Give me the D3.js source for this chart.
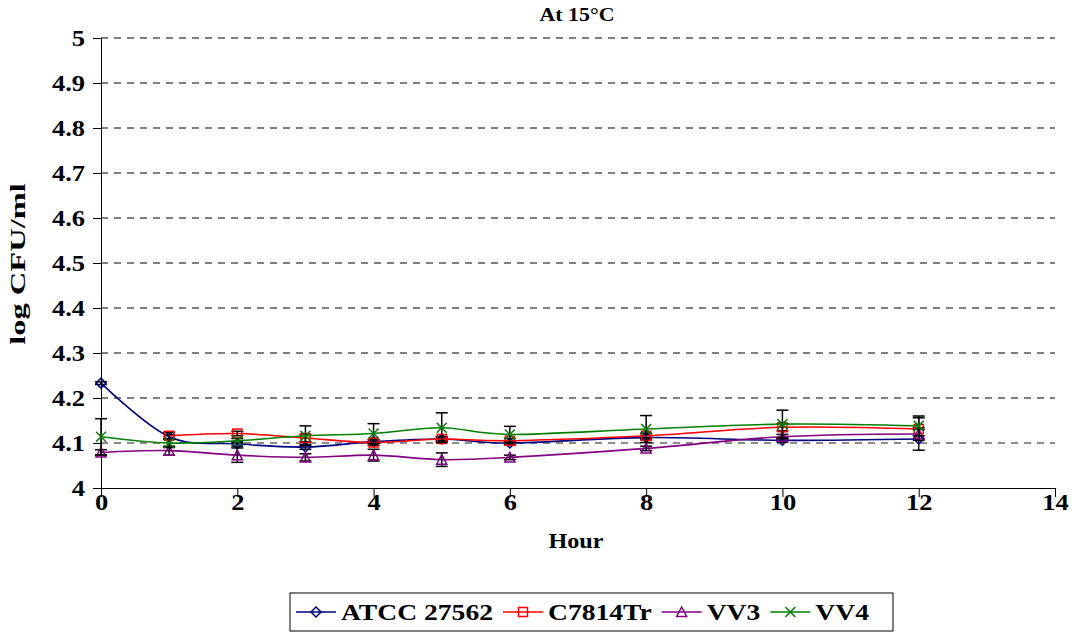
<!DOCTYPE html>
<html>
<head>
<meta charset="utf-8">
<script src="https://cdn.jsdelivr.net/npm/d3@7"></script>
<style>
  body { margin: 0; background: #fff; }
  svg text { font-family: "Liberation Serif", "Times New Roman", serif; font-weight: bold; fill: #000; }
</style>
</head>
<body>
<div id="chart"></div>
<script>
// data (log CFU/ml at 15°C)
const hours = [0, 1, 2, 3, 4, 5, 6, 8, 10, 12];
const atcc = [4.233, 4.114, 4.098, 4.091, 4.103, 4.109, 4.100, 4.112, 4.106, 4.109];
const c7814 = [null, 4.116, 4.121, 4.111, 4.101, 4.109, 4.105, 4.116, 4.135, 4.131];
const vv3 = [4.079, 4.083, 4.073, 4.068, 4.073, 4.063, 4.068, 4.088, 4.114, 4.120];
const vv4 = [4.114, 4.100, 4.105, 4.116, 4.121, 4.134, 4.119, 4.131, 4.142, 4.138];
// error bar half-widths
const atccErr = [0.003, 0.005, 0.005, 0.005, 0.004, 0.004, 0.004, 0.005, 0.004, 0.025];
const c7814Err = [null, 0.008, 0.005, 0.008, 0.006, 0.005, 0.005, 0.006, 0.008, 0.025];
const vv3Err = [0.006, 0.010, 0.016, 0.008, 0.013, 0.015, 0.005, 0.005, 0.005, 0.010];
const vv4Err = [0.040, 0.010, 0.005, 0.022, 0.022, 0.033, 0.018, 0.030, 0.031, 0.022];
const seriesNames = ["ATCC 27562", "C7814Tr", "VV3", "VV4"];
const xTicks = [0, 2, 4, 6, 8, 10, 12, 14];
const yTicks = [4, 4.1, 4.2, 4.3, 4.4, 4.5, 4.6, 4.7, 4.8, 4.9, 5];

const colors = ["#000080", "#ff0000", "#800080", "#008000"];
const shapes = ["diamond", "square", "triangle", "cross"];
const values = [atcc, c7814, vv3, vv4];
const errors = [atccErr, c7814Err, vv3Err, vv4Err];

const width = 1075, height = 632;
const SX = 1.15; // the original text is a little wide along its baseline

const svg = d3.select("#chart").append("svg")
  .attr("width", width)
  .attr("height", height);

const x = d3.scaleLinear().domain([0, 14]).range([101, 1055]);
const y = d3.scaleLinear().domain([4, 5]).range([488, 38]);

// dashed gridlines
svg.append("g")
  .selectAll("line")
  .data(yTicks.slice(1))
  .enter()
  .append("line")
  .attr("x1", x(0)).attr("x2", x(14))
  .attr("y1", d => y(d)).attr("y2", d => y(d))
  .attr("stroke", d => d === 4.1 ? "#666" : "#000")
  .attr("stroke-width", d => d === 4.1 ? 1.5 : 1)
  .attr("stroke-dasharray", "7,6");

// y axis
const yAxis = svg.append("g")
  .attr("transform", `translate(${x(0)},0)`)
  .call(d3.axisLeft(y).tickValues(yTicks).tickSize(8).tickFormat(d => String(+d.toFixed(1))));
yAxis.selectAll("text")
  .style("font-size", "23px")
  .attr("x", -16 / SX)
  .attr("transform", `scale(${SX},1)`);

// x axis
const xAxis = svg.append("g")
  .attr("transform", `translate(0,${y(4)})`)
  .call(d3.axisBottom(x).tickValues(xTicks).tickSize(9).tickFormat(d3.format("d")));
xAxis.selectAll("text")
  .style("font-size", "23px")
  .attr("y", 6)
  .attr("transform", `scale(${SX},1)`);
svg.selectAll(".domain").attr("stroke", "#000");
svg.selectAll(".tick line").attr("stroke", "#000");

// text stretched along its baseline, optionally rotated
function stretchedText(g, px, py, str, size, sx, rotate) {
  return g.append("g")
    .attr("transform", `translate(${px},${py}) rotate(${rotate || 0}) scale(${sx},1)`)
    .append("text")
    .attr("text-anchor", "middle")
    .style("font-size", size + "px")
    .text(str);
}

stretchedText(svg, 577, 21, "At 15°C", 19, SX);
stretchedText(svg, 576, 548, "Hour", 21, SX);
stretchedText(svg, 25, 264, "log CFU/ml", 21, 1.55, -90);

const line = d3.line()
  .defined(d => d.v != null)
  .x(d => x(d.h))
  .y(d => y(d.v))
  .curve(d3.curveCardinal.tension(0));

function marker(sel, shape, color) {
  if (shape === "diamond") {
    sel.append("path").attr("d", "M0,-5L5,0L0,5L-5,0Z");
  } else if (shape === "square") {
    sel.append("rect").attr("x", -4.5).attr("y", -4.5).attr("width", 9).attr("height", 9);
  } else if (shape === "triangle") {
    sel.append("path").attr("d", "M0,-5L5,4.5L-5,4.5Z");
  } else {
    sel.append("path").attr("d", "M-5,-5L5,5M5,-5L-5,5");
  }
  sel.selectAll("path,rect")
    .attr("fill", "none")
    .attr("stroke", color)
    .attr("stroke-width", 1.5);
}

values.forEach((vals, i) => {
  const pts = hours.map((h, j) => ({ h: h, v: vals[j], e: errors[i][j] }));
  const g = svg.append("g");
  g.append("path")
    .datum(pts)
    .attr("fill", "none")
    .attr("stroke", colors[i])
    .attr("stroke-width", 1.6)
    .attr("d", line);

  const valid = pts.filter(d => d.v != null);
  const eb = g.selectAll(".err")
    .data(valid)
    .enter()
    .append("g")
    .attr("stroke", "#000")
    .attr("stroke-width", 1.5);
  eb.append("line")
    .attr("x1", d => x(d.h)).attr("x2", d => x(d.h))
    .attr("y1", d => y(d.v - d.e)).attr("y2", d => y(d.v + d.e));
  eb.append("line")
    .attr("x1", d => x(d.h) - 6).attr("x2", d => x(d.h) + 6)
    .attr("y1", d => y(d.v - d.e)).attr("y2", d => y(d.v - d.e));
  eb.append("line")
    .attr("x1", d => x(d.h) - 6).attr("x2", d => x(d.h) + 6)
    .attr("y1", d => y(d.v + d.e)).attr("y2", d => y(d.v + d.e));

  g.selectAll(".mk")
    .data(valid)
    .enter()
    .append("g")
    .attr("transform", d => `translate(${x(d.h)},${y(d.v)})`)
    .each(function () { marker(d3.select(this), shapes[i], colors[i]); });
});

// legend
const legend = svg.append("g");
legend.append("rect")
  .attr("x", 290).attr("y", 593)
  .attr("width", 603).attr("height", 38)
  .attr("fill", "#fff")
  .attr("stroke", "#000")
  .attr("stroke-width", 1);
let lx = 296;
const ly = 612;
seriesNames.forEach((name, i) => {
  legend.append("line")
    .attr("x1", lx).attr("x2", lx + 40)
    .attr("y1", ly).attr("y2", ly)
    .attr("stroke", colors[i])
    .attr("stroke-width", 1.6);
  legend.append("g")
    .attr("transform", `translate(${lx + 20},${ly})`)
    .each(function () { marker(d3.select(this), shapes[i], colors[i]); });
  const t = legend.append("g")
    .attr("transform", `translate(${lx + 45},${ly + 8}) scale(1.2,1)`)
    .append("text")
    .style("font-size", "23px")
    .text(name);
  lx += 45 + t.node().getComputedTextLength() * 1.2 + 10;
});
</script>
</body>
</html>
